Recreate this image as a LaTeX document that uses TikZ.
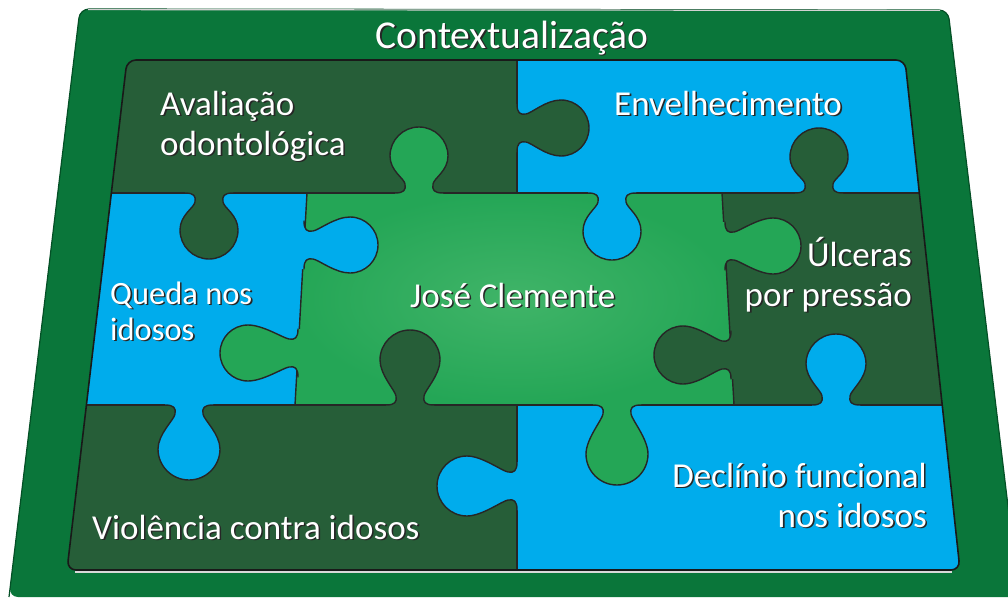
\documentclass[tikz,border=0pt]{standalone}
\usepackage{fontspec}
\setmainfont{Carlito}
\definecolor{frame}{RGB}{10,118,58}
\definecolor{frameedge}{RGB}{4,80,38}
\definecolor{dkg}{RGB}{38,94,56}
\definecolor{blu}{RGB}{0,172,236}
\definecolor{lgr}{RGB}{36,166,86}
\definecolor{lgrc}{RGB}{64,180,104}
\tikzset{
  edge/.style={draw=black!85,line width=1.4pt,line join=round,line cap=round},
  kd/.style={x={(1pt,0pt)},y={(0pt,-1pt)}},
  ku/.style={x={(1pt,0pt)},y={(0pt,1pt)}},
  kr/.style={x={(0pt,1pt)},y={(1pt,0pt)}},
  kl/.style={x={(0pt,1pt)},y={(-1pt,0pt)}},
  lab/.style={text=white,inner sep=0pt,font=\fontsize{35}{40}\selectfont},
}
\newcommand\sh[1]{\makebox[0pt][l]{\hspace{1.6pt}\raisebox{-1.6pt}{\textcolor{black!85}{#1}}}#1}
\newcommand\knob[6]{%
  \begin{scope}[shift={(#1,#2)},#3]
    \pgfmathsetmacro\kc{#5}\pgfmathsetmacro\kr{#6}\pgfmathsetmacro\kk{0.5523*#6}
    \fill[#4] (-24,-5) -- (-24,0) .. controls (-15,0) and (-13,3) .. (-14,9)
      .. controls (-15,15) and (-\kr,\kc-15) .. (-\kr,\kc)
      .. controls (-\kr,\kc+\kk) and (-\kk,\kc+\kr) .. (0,\kc+\kr)
      .. controls (\kk,\kc+\kr) and (\kr,\kc+\kk) .. (\kr,\kc)
      .. controls (\kr,\kc-15) and (15,15) .. (14,9)
      .. controls (13,3) and (15,0) .. (24,0) -- (24,-5) -- cycle;
    \draw[edge] (-24,0) .. controls (-15,0) and (-13,3) .. (-14,9)
      .. controls (-15,15) and (-\kr,\kc-15) .. (-\kr,\kc)
      .. controls (-\kr,\kc+\kk) and (-\kk,\kc+\kr) .. (0,\kc+\kr)
      .. controls (\kk,\kc+\kr) and (\kr,\kc+\kk) .. (\kr,\kc)
      .. controls (\kr,\kc-15) and (15,15) .. (14,9)
      .. controls (13,3) and (15,0) .. (24,0);
  \end{scope}}
\begin{document}
\begin{tikzpicture}[x=1pt,y=-1pt]
\useasboundingbox (0,0) rectangle (1008,597);
% outer frame
\fill[frame,rounded corners=9] (9,597) -- (80,9) -- (948,10) -- (1019,597) -- cycle;
\draw[frameedge,line width=1.2pt,rounded corners=9] (9,597) -- (80,9) -- (948,10) -- (1019,597);
\draw[white!65!gray,line width=1.2pt] (88,9.6) -- (940,10.4);
% board
\begin{scope}
\clip[rounded corners=9] (67,570) -- (127,60) -- (905,60) -- (960,570) -- cycle;
\fill[dkg] (60,40) -- (517,40) -- (517,193) -- (60,193) -- cycle;
\fill[blu] (517,40) -- (980,40) -- (980,193) -- (517,193) -- cycle;
\fill[blu] (40,193) -- (307,193) -- (295,405) -- (40,405) -- cycle;
\shade[inner color=lgrc,outer color=lgr] (307,193) -- (722,193) -- (734,405) -- (295,405) -- cycle;
\fill[dkg] (722,193) -- (980,193) -- (980,405) -- (734,405) -- cycle;
\fill[dkg] (40,405) -- (517,405) -- (517,600) -- (40,600) -- cycle;
\fill[blu] (517,405) -- (980,405) -- (980,600) -- (517,600) -- cycle;
\draw[edge] (60,193) -- (980,193);
\draw[edge] (40,405) -- (980,405);
\draw[edge] (517,40) -- (517,193);
\draw[edge] (307,193) -- (295,405);
\draw[edge] (722,193) -- (734,405);
\draw[edge] (517,405) -- (517,600);
\knob{209}{193}{kd}{dkg}{37}{29}
\knob{419}{193}{ku}{lgr}{37}{29}
\knob{304}{245}{kr}{blu}{46}{28}
\knob{517}{128}{kr}{dkg}{44}{28}
\knob{612}{193}{kd}{blu}{38}{29}
\knob{819}{193}{ku}{dkg}{36}{29}
\knob{725}{246}{kr}{lgr}{48}{28}
\knob{189}{405}{kd}{blu}{44}{31}
\knob{298}{353}{kl}{lgr}{50}{28}
\knob{410}{405}{ku}{dkg}{45}{30}
\knob{517}{486}{kl}{blu}{50}{30}
\knob{617}{405}{kd}{lgr}{49}{31}
\knob{731}{355}{kl}{dkg}{48}{29}
\knob{836}{405}{ku}{blu}{41}{30}
\end{scope}
\draw[black!90,line width=1.6pt,rounded corners=9] (67,570) -- (127,60) -- (905,60) -- (960,570) -- cycle;
\draw[white!70!gray,line width=1.2pt] (75,572) -- (952,572);
% labels (multi-line nodes: base anchor is the last line's baseline)
\node[lab,anchor=base,font=\fontsize{39.5}{44}\selectfont] (ctx) at (512,48) {\sh{Contextualização}};
\node[lab,anchor=base west,align=left] (aval) at (160,155) {\sh{Avaliação}\\\sh{odontológica}};
\node[lab,anchor=base west] (env) at (614,115) {\sh{Envelhecimento}};
\node[lab,anchor=base west] (jose) at (410,307) {\sh{José Clemente}};
\node[lab,anchor=base west,align=left,font=\fontsize{32.5}{36}\selectfont] (queda) at (110,340) {\sh{Queda nos}\\\sh{idosos}};
\node[lab,anchor=base east,align=right] (ulc) at (912,306) {\sh{Úlceras}\\\sh{por pressão}};
\node[lab,anchor=base west] (viol) at (92,539) {\sh{Violência contra idosos}};
\node[lab,anchor=base east,align=right] (decl) at (927,527) {\sh{Declínio funcional}\\\sh{nos idosos}};
\end{tikzpicture}
\end{document}
